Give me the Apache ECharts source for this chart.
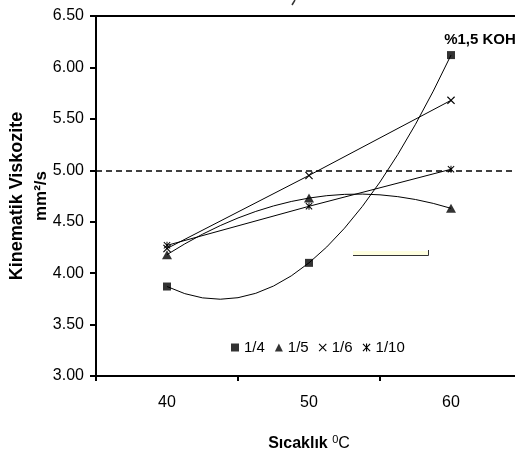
<!DOCTYPE html>
<html>
<head>
<meta charset="utf-8">
<script src="https://cdn.jsdelivr.net/npm/echarts@6/dist/echarts.min.js"></script>
<style>
html,body{margin:0;padding:0;background:#fff;overflow:hidden;width:515px;height:457px;}
#chart{width:522px;height:457px;}
</style>
</head>
<body>
<div id="chart"></div>
<script>
// ---- data ----
const categories = ['40', '50', '60'];
const seriesNames = ['1/4', '1/5', '1/6', '1/10'];
const s14 = [3.87, 4.10, 6.12];
const s15 = [4.18, 4.73, 4.63];
const s16 = [4.24, 4.95, 5.68];
const s110 = [4.27, 4.65, 5.01];
const yMin = 3.0, yMax = 6.5, yStep = 0.5;
const refLine = 5.0;
const xTitle = 'Sıcaklık';
const yTitle = 'Kinematik Viskozite';
const yUnit = 'mm²/s';
const annotation = '%1,5 KOH';

const FONT = "'Liberation Sans', Arial, sans-serif";
const xPath = 'path://M0,1L1,0L5,4L9,0L10,1L6,5L10,9L9,10L5,6L1,10L0,9L4,5Z';
const starPath = 'path://M0,1L1,0L5,4L9,0L10,1L6,5L10,9L9,10L5,6L1,10L0,9L4,5ZM4.3,0L5.7,0L5.7,10L4.3,10Z';

// quadratic trendline through three points, drawn as an exact Bezier via axis coords
function curveRenderer(values) {
  return function (params, api) {
    const p0 = api.coord([0, values[0]]);
    const p2 = api.coord([2, values[2]]);
    const cy = 2 * values[1] - (values[0] + values[2]) / 2;
    const p1 = api.coord([1, cy]);
    return {
      type: 'path',
      shape: { pathData: 'M' + p0[0] + ' ' + p0[1] + ' Q' + p1[0] + ' ' + p1[1] + ' ' + p2[0] + ' ' + p2[1] },
      style: { fill: 'none', stroke: '#000', lineWidth: 1 }
    };
  };
}

const chart = echarts.init(document.getElementById('chart'), null, { renderer: 'canvas' });
chart.setOption({
  animation: false,
  backgroundColor: '#fff',
  grid: { left: 96, top: 16, right: 0, bottom: 81, show: true, borderColor: '#000', borderWidth: 2, backgroundColor: 'transparent' },
  xAxis: {
    type: 'category',
    data: categories,
    boundaryGap: true,
    axisLine: { lineStyle: { color: '#000', width: 2 } },
    axisTick: { show: true, length: 5, lineStyle: { color: '#000', width: 2 } },
    axisLabel: { color: '#000', fontSize: 16, fontFamily: FONT, margin: 19 },
    name: '{a|' + xTitle + ' }{s|0}{c|C}',
    nameLocation: 'middle',
    nameGap: 58,
    nameTextStyle: {
      fontFamily: FONT,
      rich: {
        a: { fontWeight: 'bold', fontSize: 16, fontFamily: FONT, color: '#000' },
        s: { fontSize: 11, fontFamily: FONT, color: '#000', padding: [0, 0, 8, 0] },
        c: { fontSize: 16, fontFamily: FONT, color: '#000' }
      }
    },
    splitLine: { show: false }
  },
  yAxis: {
    type: 'value',
    min: yMin, max: yMax, interval: yStep,
    axisLine: { show: true, lineStyle: { color: '#000', width: 2 } },
    axisTick: { show: true, length: 6, lineStyle: { color: '#000', width: 2 } },
    axisLabel: { color: '#000', fontSize: 16, fontFamily: FONT, margin: 12, formatter: v => v.toFixed(2) },
    splitLine: { show: false }
  },
  legend: {
    left: 226, top: 335,
    itemWidth: 8, itemHeight: 8, itemGap: 10,
    textStyle: { color: '#000', fontSize: 15, fontFamily: FONT },
    data: [
      { name: seriesNames[0], icon: 'rect' },
      { name: seriesNames[1], icon: 'triangle' },
      { name: seriesNames[2], icon: xPath },
      { name: seriesNames[3], icon: starPath }
    ]
  },
  graphic: [
    { type: 'text', x: 17, y: 196, rotation: Math.PI / 2,
      style: { text: yTitle, font: 'bold 18px ' + FONT, fill: '#000', textAlign: 'center', textVerticalAlign: 'middle' } },
    { type: 'text', x: 41, y: 196, rotation: Math.PI / 2,
      style: { text: yUnit, font: 'bold 17px ' + FONT, fill: '#000', textAlign: 'center', textVerticalAlign: 'middle' } },
    { type: 'text', x: 480, y: 40,
      style: { text: annotation, font: 'bold 15px ' + FONT, fill: '#000', textAlign: 'center', textVerticalAlign: 'middle' } },
    { type: 'rect', shape: { x: 353, y: 251, width: 75, height: 4 }, style: { fill: '#ffffe0', stroke: null } },
    { type: 'polyline', shape: { points: [[353, 255.5], [428.5, 255.5], [428.5, 250]] }, style: { stroke: '#333', lineWidth: 1, fill: null } },
    { type: 'line', shape: { x1: 295, y1: 0, x2: 292, y2: 5 }, style: { stroke: '#333', lineWidth: 1.5 } }
  ],
  series: [
    { name: 'fit14', type: 'custom', data: [[0, s14[0]]], renderItem: curveRenderer(s14), silent: true, z: 2 },
    { name: 'fit15', type: 'custom', data: [[0, s15[0]]], renderItem: curveRenderer(s15), silent: true, z: 2 },
    { name: seriesNames[0], type: 'scatter', data: s14, symbol: 'rect', symbolSize: 8, itemStyle: { color: '#000' }, z: 5 },
    { name: seriesNames[1], type: 'scatter', data: s15, symbol: 'triangle', symbolSize: [10, 9], itemStyle: { color: '#000' }, z: 5 },
    { name: seriesNames[2], type: 'line', data: s16, symbol: xPath, symbolSize: 8, showAllSymbol: true,
      itemStyle: { color: '#000' }, lineStyle: { color: '#000', width: 1 }, z: 4,
      markLine: { silent: true, symbol: ['none', 'none'], label: { show: false },
        lineStyle: { color: '#000', type: [6, 4], width: 1.5 }, data: [{ yAxis: refLine }] } },
    { name: seriesNames[3], type: 'line', data: s110, symbol: starPath, symbolSize: 7, showAllSymbol: true,
      itemStyle: { color: '#000' }, lineStyle: { color: '#000', width: 1 }, z: 4 }
  ]
});
</script>
</body>
</html>
